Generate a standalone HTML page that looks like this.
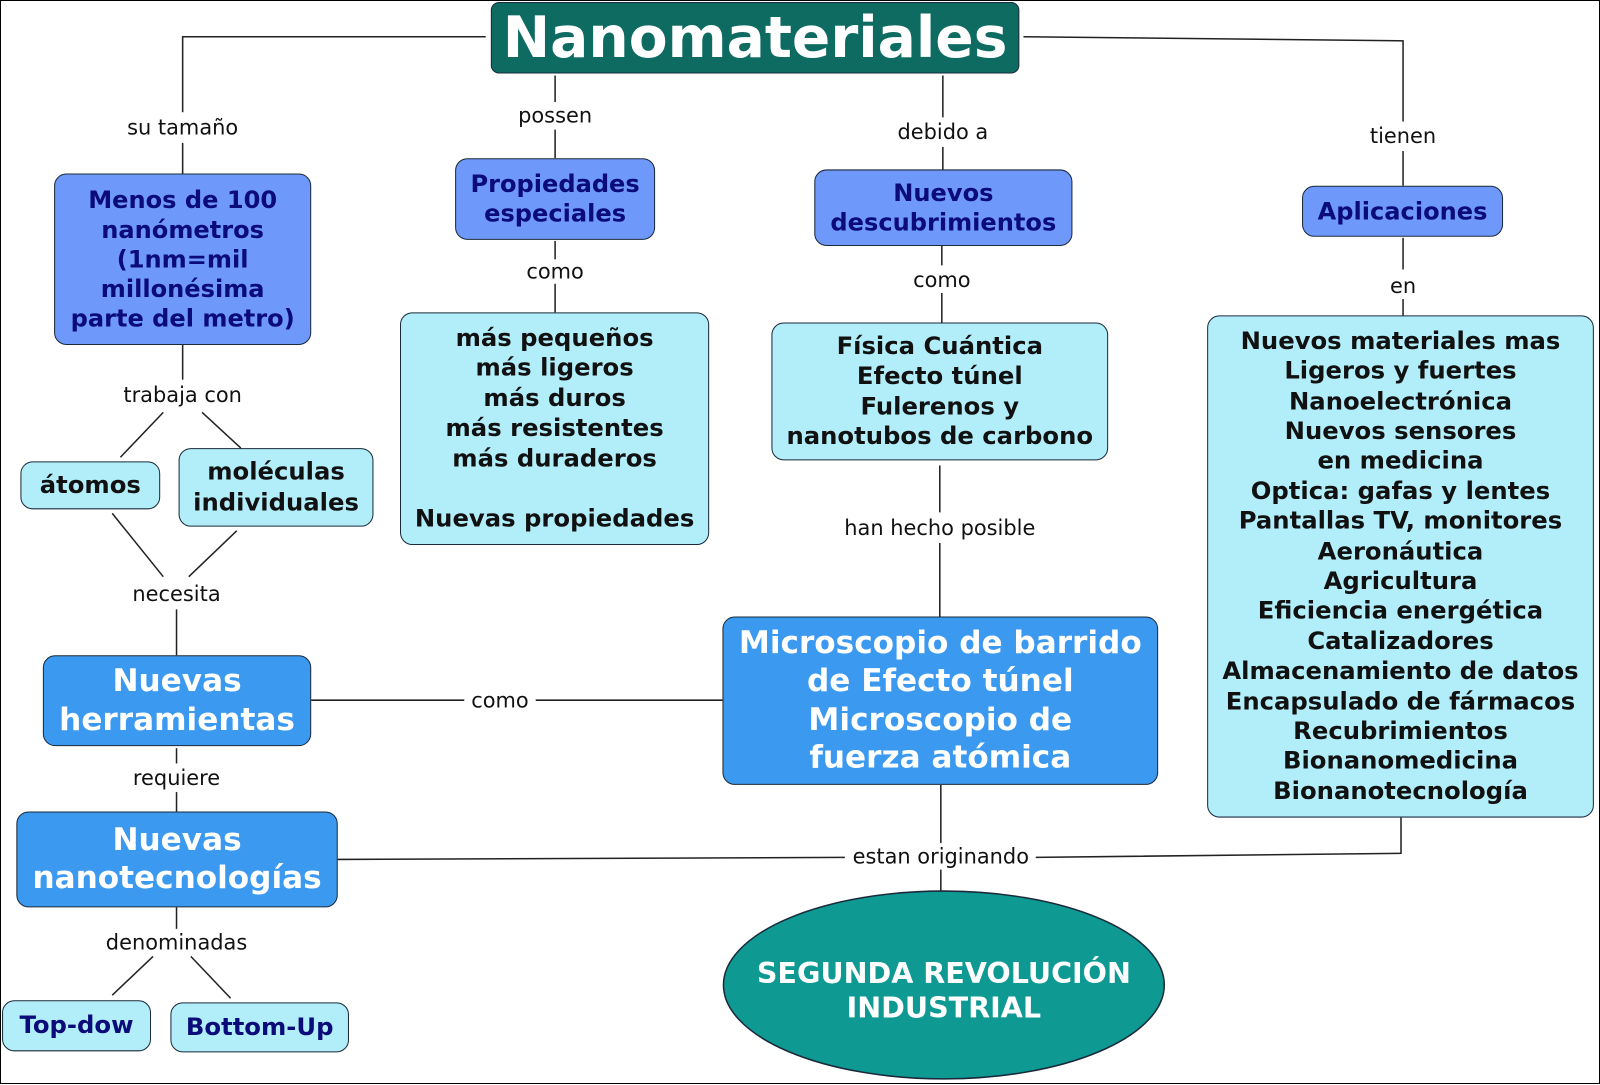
<!DOCTYPE html>
<html><head><meta charset="utf-8"><style>
html,body{margin:0;padding:0;background:#fff;width:1600px;height:1084px;overflow:hidden}
#w{position:absolute;left:0;top:0;width:1568px;height:1062px;transform:scale(1.0204,1.0207);transform-origin:0 0}
.b{position:absolute;box-sizing:border-box;border:1.5px solid #1a2a3a;border-radius:12px;display:flex;align-items:center;justify-content:center;text-align:center;font-family:"DejaVu Sans","Liberation Sans",sans-serif;font-weight:bold;white-space:nowrap}
.p{background:#6f98fb;color:#0b0b7a;font-size:23.6px;line-height:29px}
.c{background:#b2eefa;color:#111;font-size:23.8px;line-height:29.4px}
.d{background:#3c99f0;color:#fff;font-size:30.5px;line-height:37.5px}
.l{position:absolute;font-family:"DejaVu Sans","Liberation Sans",sans-serif;font-size:20.5px;color:#111;transform:translate(-50%,-50%);white-space:nowrap}
svg{position:absolute;left:0;top:0}
</style></head><body>
<div style="position:absolute;left:0;top:0;width:1598px;height:1082px;border:1px solid #000"></div>
<div id="w">
<svg width="1568" height="1062"><g stroke="#222" stroke-width="1.5" fill="none">
<polyline points="476,36 179,36 179,110"/><line x1="179" y1="140" x2="179" y2="170"/>
<line x1="179" y1="338" x2="179" y2="372"/>
<line x1="160" y1="404" x2="118" y2="448"/><line x1="198" y1="404" x2="236" y2="439"/>
<line x1="110" y1="503" x2="160" y2="565"/><line x1="232" y1="520" x2="185" y2="565"/>
<line x1="173" y1="597" x2="173" y2="642"/>
<line x1="305" y1="686" x2="455" y2="686"/><line x1="525" y1="686" x2="708" y2="686"/>
<line x1="173" y1="733" x2="173" y2="748"/><line x1="173" y1="776" x2="173" y2="795"/>
<line x1="331" y1="842" x2="828" y2="840"/><polyline points="1015,840 1373,836 1373,801"/>
<line x1="922" y1="769" x2="922" y2="826"/><line x1="922" y1="852" x2="922" y2="873"/>
<line x1="173" y1="889" x2="173" y2="910"/>
<line x1="150" y1="937" x2="110" y2="975"/><line x1="187" y1="937" x2="226" y2="978"/>
<line x1="544" y1="74" x2="544" y2="100"/><line x1="544" y1="127" x2="544" y2="155"/>
<line x1="544" y1="236" x2="544" y2="254"/><line x1="544" y1="278" x2="544" y2="306"/>
<line x1="924" y1="74" x2="924" y2="115"/><line x1="924" y1="144" x2="924" y2="166"/>
<line x1="923" y1="241" x2="923" y2="260"/><line x1="923" y1="287" x2="923" y2="316"/>
<line x1="921" y1="456" x2="921" y2="502"/><line x1="921" y1="532" x2="921" y2="604"/>
<polyline points="1003,36 1375,40 1375,119"/><line x1="1375" y1="148" x2="1375" y2="182"/>
<line x1="1375" y1="233" x2="1375" y2="264"/><line x1="1375" y1="293" x2="1375" y2="309"/>
</g>
<ellipse cx="925" cy="965" rx="216" ry="92" fill="#0e9a93" stroke="#1a2a3a" stroke-width="1.5"/>
</svg>
<div class="b" style="left:481px;top:2px;width:518px;height:70px;background:#0e6b62;color:#fff;font-size:55.5px;border-radius:8px">Nanomateriales</div>
<div class="b p" style="left:53px;top:170px;width:252px;height:168px">Menos de 100<br>nanómetros<br>(1nm=mil<br>millonésima<br>parte del metro)</div>
<div class="b c" style="left:20px;top:452px;width:137px;height:47px">átomos</div>
<div class="b c" style="left:175px;top:439px;width:191px;height:77px">moléculas<br>individuales</div>
<div class="b d" style="left:42px;top:642px;width:263px;height:89px">Nuevas<br>herramientas</div>
<div class="b d" style="left:16px;top:795px;width:315px;height:94px">Nuevas<br>nanotecnologías</div>
<div class="b c" style="left:2px;top:980px;width:146px;height:50px;color:#0b0b7a">Top-dow</div>
<div class="b c" style="left:167px;top:982px;width:175px;height:49px;color:#0b0b7a">Bottom-Up</div>
<div class="b p" style="left:446px;top:155px;width:196px;height:80px">Propiedades<br>especiales</div>
<div class="b c" style="left:392px;top:306px;width:303px;height:228px">más pequeños<br>más ligeros<br>más duros<br>más resistentes<br>más duraderos<br><br>Nuevas propiedades</div>
<div class="b p" style="left:798px;top:166px;width:253px;height:75px">Nuevos<br>descubrimientos</div>
<div class="b c" style="left:756px;top:316px;width:330px;height:135px">Física Cuántica<br>Efecto túnel<br>Fulerenos y<br>nanotubos de carbono</div>
<div class="b d" style="left:708px;top:604px;width:427px;height:165px">Microscopio de barrido<br>de Efecto túnel<br>Microscopio de<br>fuerza atómica</div>
<div class="b p" style="left:1276px;top:182px;width:197px;height:50px">Aplicaciones</div>
<div class="b c" style="left:1183px;top:309px;width:379px;height:492px">Nuevos materiales mas<br>Ligeros y fuertes<br>Nanoelectrónica<br>Nuevos sensores<br>en medicina<br>Optica: gafas y lentes<br>Pantallas TV, monitores<br>Aeronáutica<br>Agricultura<br>Eficiencia energética<br>Catalizadores<br>Almacenamiento de datos<br>Encapsulado de fármacos<br>Recubrimientos<br>Bionanomedicina<br>Bionanotecnología</div>
<div class="b" style="left:709px;top:879px;width:432px;height:184px;border:none;background:none;color:#fff;font-size:28px;line-height:34px">SEGUNDA REVOLUCIÓN<br>INDUSTRIAL</div>
<div class="l" style="left:179px;top:125px">su tamaño</div>
<div class="l" style="left:179px;top:387px">trabaja con</div>
<div class="l" style="left:173px;top:582px">necesita</div>
<div class="l" style="left:490px;top:686px">como</div>
<div class="l" style="left:173px;top:762px">requiere</div>
<div class="l" style="left:922px;top:839px">estan originando</div>
<div class="l" style="left:173px;top:923px">denominadas</div>
<div class="l" style="left:544px;top:113px">possen</div>
<div class="l" style="left:544px;top:266px">como</div>
<div class="l" style="left:924px;top:129px">debido a</div>
<div class="l" style="left:923px;top:274px">como</div>
<div class="l" style="left:921px;top:517px">han hecho posible</div>
<div class="l" style="left:1375px;top:133px">tienen</div>
<div class="l" style="left:1375px;top:280px">en</div>
</div>
</body></html>
